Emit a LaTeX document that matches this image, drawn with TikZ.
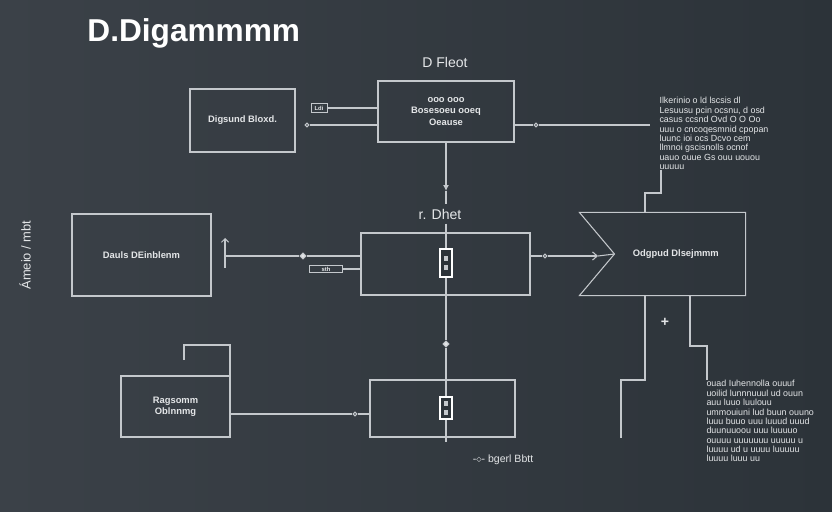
\documentclass[tikz,border=0pt]{standalone}
\usepackage{fontspec}
\setmainfont{Liberation Sans}
\usetikzlibrary{calc,arrows.meta,positioning,shapes.geometric}
\definecolor{bgl}{RGB}{59,65,72}
\definecolor{bgr}{RGB}{44,51,57}
\definecolor{lin}{RGB}{196,200,204}
\definecolor{txt}{RGB}{228,230,232}
\tikzset{
  blk/.style={draw=lin, line width=0.9pt, inner sep=0pt, font=\fontsize{8}{9.5}\selectfont\bfseries, text=txt, align=center},
  tag/.style={draw=lin, line width=0.6pt, inner sep=1pt, font=\fontsize{5}{5}\selectfont\bfseries, text=txt},
  dot/.style={circle, draw=lin, fill=bgl, line width=0.9pt, inner sep=1.2pt},
  dia/.style={diamond, draw=lin, fill=txt, inner sep=1.3pt},
  icon/.style={draw=white, line width=1.6pt, fill=bgr, inner sep=1.5pt, align=center, text=lin, font=\fontsize{6}{8}\selectfont},
  note/.style={font=\fontsize{7.6}{8}\selectfont, text=txt, align=left, inner sep=0pt},
  head/.style={font=\fontsize{12}{14}\selectfont, text=txt},
}

\begin{document}
\begin{tikzpicture}[x=0.03cm, y=-0.03cm, line width=0.9pt, color=lin]
  \shade[left color=bgl, right color=bgr] (0,0) rectangle (832,512);
  \useasboundingbox (0,0) rectangle (832,512);

  \node[anchor=west, text=white, font=\fontsize{27}{29}\selectfont\bfseries] (ttl) at (83,33) {D.Digammmm};
  \node[head] (hdB) at (445,62) {D Fleot};
  \node[head] (hdC) at (440,214) {r. Dhet};
  \node[rotate=90, font=\fontsize{11}{12}\selectfont, text=txt] (side) at (25,255) {Ámeio / mbt};

  % blocks
  \node[blk, minimum width=3.15cm, minimum height=1.89cm] (sig) at (242.5,120.5) {Digsund Bloxd.};
  \node[blk, minimum width=4.08cm, minimum height=1.83cm] (flt) at (446,111.5) {ooo ooo\\Bosesoeu ooeq\\Oeause};
  \node[blk, minimum width=4.17cm, minimum height=2.46cm] (dls) at (141.5,255) {Dauls DEinblenm};
  \node[blk, minimum width=5.07cm, minimum height=1.86cm] (dht) at (445.5,264) {};
  \node[blk, minimum width=4.35cm, minimum height=1.71cm] (bpt) at (442.5,408.5) {};
  \node[blk, minimum width=3.27cm, minimum height=1.83cm] (rag) at (175.5,406.5) {Ragsomm\\Oblnnmg};
  \node[blk, draw=none, minimum width=4.95cm, minimum height=2.46cm] (orig) at (662.5,254) {\hspace*{0.8cm}Odgpud Dlsejmmm};
  \coordinate (notch) at ($(orig.west)+(35,0)$);
  \draw (orig.north west) -- (orig.north east) -- (orig.south east) -- (orig.south west) -- (notch) -- cycle;

  \node[icon, minimum width=0.36cm, minimum height=0.84cm] (icC) at (446,263) {\rule{4pt}{4pt}\\\rule{4pt}{4pt}};
  \node[icon, minimum width=0.36cm, minimum height=0.66cm] (icD) at (446,408) {\rule{4pt}{4pt}\\\rule{4pt}{4pt}};

  % tags and markers
  \node[tag, minimum width=0.48cm, minimum height=0.27cm] (tgA) at (319,108) {Ldi};
  \node[tag, minimum width=1cm, minimum height=0.21cm] (tgL) at (326,269) {sth};
  \node[dot] (mkA) at (307,125) {};
  \node[dot] (mkB) at (536,125) {};
  \node[dia] (mkL) at (303,256) {};
  \node[dot] (mkD) at (545,256) {};
  \node[dia] (mkV) at (446,344) {};
  \node[dot] (mkE) at (355,414) {};
  \node[text=txt, font=\bfseries\fontsize{12}{12}\selectfont] (plus) at (665,322) {+};

  % notes
  \node[note, anchor=north west] (ntA) at (659,97) {Ilkerinio o ld lscsis dl\\Lesuusu pcin ocsnu, d osd\\casus ccsnd Ovd O O Oo\\uuu o cncoqesmnid cpopan\\luunc ioi ocs Dcvo cem\\llmnoi gscisnolls ocnof\\uauo ouue Gs ouu uouou\\uuuuu};
  \node[note, anchor=north west] (ntB) at (706,380) {ouad Iuhennolla ouuuf\\uoilid lunnnuuul ud ouun\\auu luuo luulouu\\ummouiuni lud buun ouuno\\luuu buuo uuu luuud uuud\\duunuuoou uuu luuuuo\\ouuuu uuuuuuu uuuuu u\\luuuu ud u uuuu luuuuu\\luuuu luuu uu};
  \node[note, font=\fontsize{9}{10}\selectfont] (leg) at (503,460) {-$\diamond$- bgerl Bbtt};

  \coordinate (arrV) at (446,191);
  \coordinate (tipD) at (598,256);
  \coordinate (endB) at (650,125);
  \coordinate (lt1) at (225,238);
  \coordinate (lt2) at (225,268);
  \coordinate (kA) at (645,193);
  \coordinate (kB) at (645,380);
  \coordinate (kC) at (621,380);
  \coordinate (kD) at (621,438);
  \coordinate (kE) at (690,346);
  \coordinate (kF) at (707,346);
  \coordinate (hk1) at (184,360);
  \coordinate (hk2) at (184,345);
  \coordinate (hk3) at (230,345);
  \coordinate (endV) at (446,442);

  % connectors
  \draw (tgA) -- (tgA -| flt.west);
  \draw (mkA) -- (mkA -| flt.west);
  \draw (flt.east |- mkB) -- (mkB) -- (endB);
  \draw[-{Latex[length=5pt,width=5pt]}] (flt.south) -- (arrV);
  \draw (arrV) -- (hdC.north -| arrV);
  \draw (hdC.south -| icC) -- (icC.north);
  \draw (icC.south) -- (mkV) -- (icD.north);
  \draw (icD.south) -- (endV);
  \draw[{Straight Barb[length=3pt,width=6pt]}-] (lt1) -- (lt2);
  \draw (lt1 |- mkL) -- (mkL) -- (mkL -| dht.west);
  \draw (tgL.east) -- (tgL.east -| dht.west);
  \draw (dht.east |- mkD) -- (mkD);
  \draw[-{Straight Barb[length=4pt,width=7pt]}] (mkD) -- (tipD);
  \draw (tipD) -- (notch);
  \draw ($(ntA.south west)+(2,0)$) |- (kA) -- (kA |- orig.north);
  \draw (orig.south -| kB) -- (kB) -- (kC) -- (kD);
  \draw (orig.south -| kE) -- (kE) -- (kF) -- (kF |- ntB.north);
  \draw (hk1) -- (hk2) -- (hk3) -- (hk3 |- rag.north);
  \draw (rag.east |- mkE) -- (mkE) -- (mkE -| bpt.west);
\end{tikzpicture}
\end{document}
